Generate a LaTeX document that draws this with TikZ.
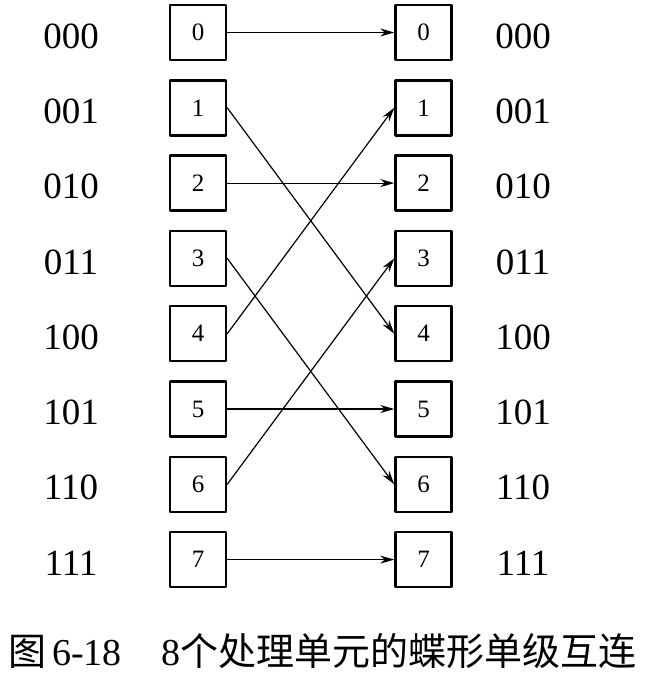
\documentclass[tikz,border=0pt]{standalone}
\usepackage{fontspec}
\setmainfont{Liberation Serif}
\newfontfamily\cjk{Noto Sans CJK SC}
\usetikzlibrary{arrows.meta}

\tikzset{
  pebox/.style={draw,line width=2.5pt,minimum width=56pt,minimum height=55pt,inner sep=0pt,font=\fontsize{25}{28}\selectfont},
  binlabel/.style={inner sep=0pt,font=\fontsize{37}{40}\selectfont},
  link/.style={line width=1.2pt,-{Stealth[length=14pt,width=8pt]}}
}

\begin{document}
\begin{tikzpicture}[x=1pt,y=-1pt,line cap=round,line join=round]
  \useasboundingbox (0,0) rectangle (646,687);
  \foreach \i/\b in {0/000,1/001,2/010,3/011,4/100,5/101,6/110,7/111} {
    \node[pebox] (L\i) at (198,{32.5+75.3*\i}) {\i};
    \node[pebox] (R\i) at (423.5,{32.5+75.3*\i}) {\i};
    \node[binlabel] (lb\i) at (71,{36+75.3*\i}) {\b};
    \node[binlabel] (rb\i) at (523,{36+75.3*\i}) {\b};
  }
  \foreach \i/\j in {0/0,1/4,2/2,3/6,4/1,5/5,6/3,7/7} {
    \draw[link] (L\i.east) -- (R\j.west);
  }
  \node[inner sep=0pt,anchor=west,font=\fontsize{38}{44}\selectfont] (caption) at (8,651)
    {{\cjk 图}\kern6pt 6-18\kern40pt 8{\cjk 个处理单元的蝶形单级互连}};
\end{tikzpicture}
\end{document}
